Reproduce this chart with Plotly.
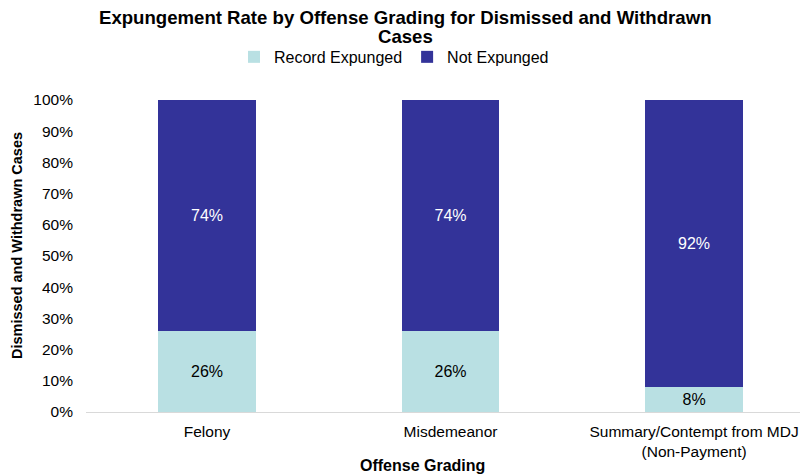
import plotly.graph_objects as go

categories = ["Felony", "Misdemeanor", "Summary/Contempt from MDJ<br>(Non-Payment)"]
record_expunged = [0.26, 0.26, 0.08]
not_expunged = [0.74, 0.74, 0.92]
y_ticks = [0.0, 0.1, 0.2, 0.3, 0.4, 0.5, 0.6, 0.7, 0.8, 0.9, 1.0]
y_tick_labels = ["0%", "10%", "20%", "30%", "40%", "50%", "60%", "70%", "80%", "90%", "100%"]

FONT = "Liberation Sans, Arial, sans-serif"
LIGHT = "#B9E0E3"
DARK = "#333399"

x_pos = list(range(len(categories)))

fig = go.Figure()
fig.add_trace(go.Bar(
    name="Record Expunged",
    x=x_pos, y=record_expunged,
    marker=dict(color=LIGHT, line=dict(width=0)),
    width=0.4,
    text=[f"{v:.0%}" for v in record_expunged],
    textposition="inside", insidetextanchor="middle", textangle=0,
    textfont=dict(family=FONT, size=16, color="#000000"),
    constraintext="none",
    hoverinfo="skip",
))
fig.add_trace(go.Bar(
    name="Not Expunged",
    x=x_pos, y=not_expunged,
    marker=dict(color=DARK, line=dict(width=0)),
    width=0.4,
    text=[f"{v:.0%}" for v in not_expunged],
    textposition="inside", insidetextanchor="middle", textangle=0,
    textfont=dict(family=FONT, size=16, color="#FFFFFF"),
    constraintext="none",
    hoverinfo="skip",
))

# Chart title (two lines) and axis titles placed as annotations
title_lines = ["Expungement Rate by Offense Grading for Dismissed and Withdrawn", "Cases"]
for txt, yy in zip(title_lines, [1.266, 1.202]):
    fig.add_annotation(
        text=f"<b>{txt}</b>", xref="paper", yref="paper", x=0.4468, y=yy,
        xanchor="center", yanchor="middle", showarrow=False,
        font=dict(family=FONT, size=18.6, color="#000000"),
    )
fig.add_annotation(
    text="<b>Offense Grading</b>", xref="paper", yref="paper", x=0.4706, y=-0.170,
    xanchor="center", yanchor="middle", showarrow=False,
    font=dict(family=FONT, size=16, color="#000000"),
)
fig.add_annotation(
    text="<b>Dismissed and Withdrawn Cases</b>", xref="paper", yref="paper", x=-0.0966, y=0.532,
    xanchor="center", yanchor="middle", showarrow=False, textangle=-90,
    font=dict(family=FONT, size=14.5, color="#000000"),
)

fig.update_layout(
    barmode="stack",
    width=804, height=476,
    margin=dict(l=86, r=4, t=100, b=64),
    paper_bgcolor="white", plot_bgcolor="white",
    font=dict(family=FONT, size=15.5, color="#000000"),
    legend=dict(
        orientation="h", x=0.4314, xanchor="center", y=1.138, yanchor="middle",
        font=dict(family=FONT, size=16), traceorder="normal",
        itemwidth=30, tracegroupgap=0,
    ),
    showlegend=True,
)
fig.update_xaxes(
    range=[-0.497, 2.435],
    tickmode="array", tickvals=x_pos, ticktext=categories,
    showline=True, linecolor="#D9D9D9", linewidth=1,
    showgrid=False, ticks="", zeroline=False,
    tickfont=dict(family=FONT, size=15.5),
    ticklabelstandoff=5,
)
fig.update_yaxes(
    range=[0, 1],
    tickmode="array", tickvals=y_ticks, ticktext=y_tick_labels,
    showline=False, showgrid=False, zeroline=False, ticks="",
    tickfont=dict(family=FONT, size=15.5),
    ticklabelstandoff=12,
)

fig.write_html("out.html")
